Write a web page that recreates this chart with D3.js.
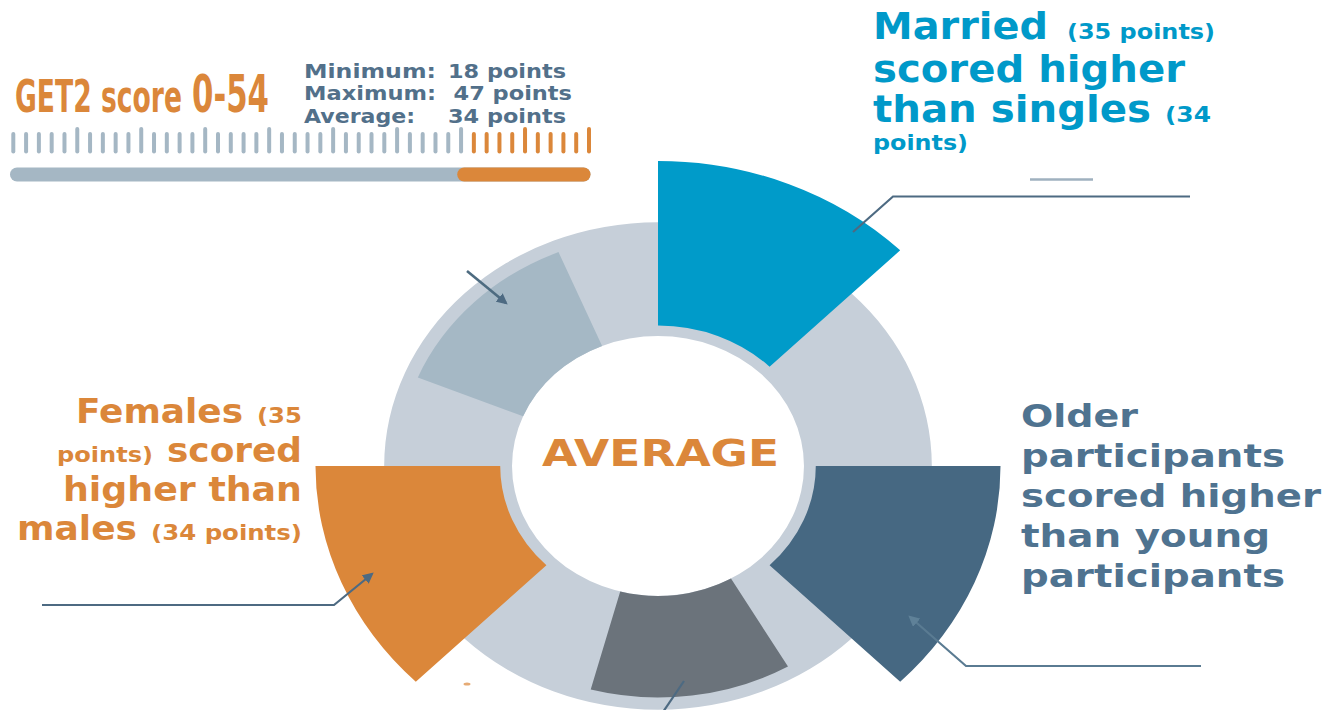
<!DOCTYPE html>
<html>
<head>
<meta charset="utf-8">
<script src="https://cdn.jsdelivr.net/npm/d3@7"></script>
<style>
  html, body { margin: 0; padding: 0; background: #ffffff; overflow: hidden; }
  text { font-family: "DejaVu Sans", Verdana, sans-serif; font-weight: bold; }
</style>
</head>
<body>
<svg id="chart" width="1340" height="710"></svg>
<script>
// ---- data -------------------------------------------------------------
// radial sectors, one per participant group
const categories  = ["Marital status", "Age", "Education", "Gender", "Employment"];
const barBase     = [6, 6, 0, 6, 0];        // where each sector starts on the radial scale
const barTop      = [100, 100, 58, 100, 58]; // where each sector ends on the radial scale
const highlighted = [true, true, false, true, false];
const trackTop    = 65;                      // extent of the background ring

// GET2 score gauge
const gaugeTicks         = d3.range(0, 46);
const gaugeMajorEvery    = 5;
const gaugeHighlightFrom = 36;
const gaugeSplit         = 34.7;

const statLabels = ["Minimum:", "Maximum:", "Average:"];
const statValues = [18, 47, 34];

// ---- styling / layout -------------------------------------------------
const sectorColor = ["#009bc9", "#466882", "#6b737b", "#db873a", "#a5b8c5"];
const sectorStartDeg = [0, 90, 150, 225, 292.5];
const sectorSpanDeg = 45;
const orange = "#db873a";
const blueText = "#0099c9";
const slateText = "#4f7390";
const statText = "#52708a";
const callout = "#4d6a82";

const svg = d3.select("#chart");

// arrowheads for the callout lines
const defs = svg.append("defs");
[["head", callout], ["headLight", "#5f8198"]].forEach(([id, col]) => {
  defs.append("marker")
    .attr("id", id)
    .attr("viewBox", "0 0 10 10")
    .attr("refX", 8).attr("refY", 5)
    .attr("markerWidth", 11).attr("markerHeight", 11)
    .attr("markerUnits", "userSpaceOnUse")
    .attr("orient", "auto")
    .append("path").attr("d", "M0,0 L10,5 L0,10 Z").attr("fill", col);
});

// ---- radial chart ----------------------------------------------------
const rScale = d3.scaleLinear().domain([0, 100]).range([130, 305]);
const toRad = d => d * Math.PI / 180;

const radial = svg.append("g")
  .attr("transform", "translate(658,466) scale(1.123,1)");

radial.append("path")
  .attr("d", d3.arc()({
    innerRadius: rScale(0), outerRadius: rScale(trackTop),
    startAngle: 0, endAngle: 2 * Math.PI
  }))
  .attr("fill", "#c6cfd9");

const arc = d3.arc()
  .innerRadius(d => rScale(d.base))
  .outerRadius(d => rScale(d.top))
  .startAngle(d => toRad(d.start))
  .endAngle(d => toRad(d.start + sectorSpanDeg));

const sectors = categories.map((c, i) => ({
  name: c, base: barBase[i], top: barTop[i], start: sectorStartDeg[i],
  color: sectorColor[i], highlighted: highlighted[i]
}));

radial.selectAll("path.sector")
  .data(sectors)
  .join("path")
  .attr("class", "sector")
  .attr("d", arc)
  .attr("fill", d => d.color);

// ---- text helpers -----------------------------------------------------
function label(t, x0, x1, y, size, color) {
  return svg.append("text")
    .attr("x", x0).attr("y", y)
    .attr("textLength", x1 - x0)
    .attr("lengthAdjust", "spacingAndGlyphs")
    .attr("fill", color)
    .style("font-size", size + "px")
    .text(t);
}
// condensed headline text: squeezed horizontally with a transform
function squeezed(t, x0, x1, y, size, color, family) {
  const el = svg.append("text")
    .attr("x", 0).attr("y", 0)
    .attr("fill", color)
    .style("font-size", size + "px")
    .style("font-family", family)
    .text(t);
  const w = el.node().getComputedTextLength();
  el.attr("transform", `translate(${x0},${y}) scale(${(x1 - x0) / w},1)`);
  return el;
}

label("AVERAGE", 542, 779, 466, 38, orange);

// ---- callouts ---------------------------------------------------------
const line = d3.line();
function callLine(pts, marker, color, width) {
  const p = svg.append("path")
    .attr("d", line(pts))
    .attr("fill", "none")
    .attr("stroke", color || callout)
    .attr("stroke-width", width || 2.2);
  if (marker) p.attr("marker-end", `url(#${marker})`);
}
callLine([[1190, 196.5], [893, 196.5], [853, 232]]);
callLine([[1030, 179.5], [1093, 179.5]], null, "#9fb1bf", 2.4);
callLine([[467, 271], [506, 303]], "head", "#4d6b80", 2.6);
callLine([[42, 605], [334, 605], [372, 574]], "head");
callLine([[1201, 666], [966, 666], [910, 617]], "headLight", "#5a7b92");
callLine([[684, 681], [663, 712]]);
svg.append("ellipse").attr("cx", 467).attr("cy", 684)
  .attr("rx", 3.5).attr("ry", 1.6).attr("fill", orange).attr("opacity", 0.7);

// ---- annotation texts -------------------------------------------------
label("Married", 873, 1048, 39, 38, blueText);
label("(35 points)", 1067, 1215, 39, 22, blueText);
label("scored higher", 873, 1185, 81.5, 38, blueText);
label("than singles", 873, 1151, 122, 38, blueText);
label("(34", 1165, 1211, 122, 22, blueText);
label("points)", 873, 968, 150, 22, blueText);

label("Females", 76, 243, 422.5, 34, orange);
label("(35", 257, 302, 422.5, 21, orange);
label("points)", 57, 153, 461.5, 21, orange);
label("scored", 167, 302, 461.5, 34, orange);
label("higher than", 63, 302, 500.5, 34, orange);
label("males", 17, 137, 540, 34, orange);
label("(34 points)", 151, 302, 540, 21, orange);

label("Older", 1021, 1138, 427, 32, slateText);
label("participants", 1021, 1285, 467, 32, slateText);
label("scored higher", 1021, 1321, 507, 32, slateText);
label("than young", 1021, 1270, 547, 32, slateText);
label("participants", 1021, 1285, 587, 32, slateText);

// ---- score gauge ------------------------------------------------------
const narrow = '"Liberation Sans Narrow", "DejaVu Sans Condensed", sans-serif';
squeezed("GET2 score", 15, 182, 112, 44, orange, narrow);
squeezed("0-54", 192, 269, 112, 52, orange, narrow);

const statX = [[304, 436, 448, 566], [304, 436, 453.5, 572], [304, 415, 448, 566]];
const statY = [78, 100, 122.5];
statLabels.forEach((s, i) => {
  label(s, statX[i][0], statX[i][1], statY[i], 19, statText);
  label(statValues[i] + " points", statX[i][2], statX[i][3], statY[i], 19, statText);
});

const gx = d3.scaleLinear().domain([0, 45]).range([13.3, 589]);

svg.append("g").selectAll("line")
  .data(gaugeTicks)
  .join("line")
  .attr("x1", d => gx(d)).attr("x2", d => gx(d))
  .attr("y1", d => d % gaugeMajorEvery === 0 && d > 0 ? 129 : 134)
  .attr("y2", 151.5)
  .attr("stroke", d => d >= gaugeHighlightFrom ? orange : "#a5b7c4")
  .attr("stroke-width", 4)
  .attr("stroke-linecap", "round");

const barLeft = gx(0) - 3.3, barRight = gx(45) + 1.5;
svg.append("rect")
  .attr("x", barLeft).attr("y", 167.5)
  .attr("width", barRight - barLeft).attr("height", 14)
  .attr("rx", 7).attr("fill", "#a5b7c4");
svg.append("rect")
  .attr("x", gx(gaugeSplit)).attr("y", 167.5)
  .attr("width", barRight - gx(gaugeSplit)).attr("height", 14)
  .attr("rx", 7).attr("fill", orange);
</script>
</body>
</html>
